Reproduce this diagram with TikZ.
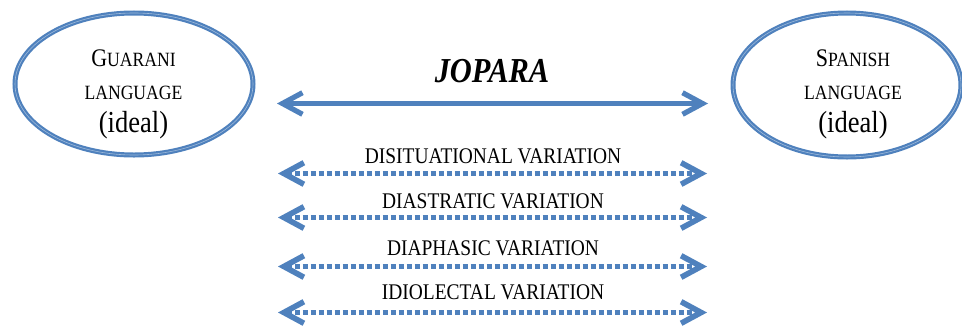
\documentclass[tikz,border=0pt]{standalone}
\usepackage{fontspec}
\setmainfont{Liberation Serif}[FakeStretch=0.87]
\usetikzlibrary{arrows.meta,shapes.geometric}

\newcommand{\firstcap}[1]{{\fontsize{18}{23.5}\selectfont #1}}
\newcommand{\idealsize}{\fontsize{21.7}{23.5}\selectfont}

\begin{document}
\begin{tikzpicture}[x=0.25mm, y=-0.25mm,
  lang/.style={ellipse, draw=lineBlue, line width=0.55mm,
    double=lineBlue!55!white, double distance=0.15mm},
  langtext/.style={align=center, inner sep=0pt,
    font=\fontsize{14.4}{23.5}\selectfont},
  mainline/.style={lineBlue, line width=1.3mm,
    {Straight Barb[length=5mm, width=5.4mm]}-{Straight Barb[length=5mm, width=5.4mm]}},
  varline/.style={lineBlue, line width=1.25mm, dash pattern=on 1.25mm off 0.75mm,
    {Straight Barb[length=5mm, width=5.4mm, line width=1.4mm]}-{Straight Barb[length=5mm, width=5.4mm, line width=1.4mm]}},
  varlabel/.style={inner sep=0pt, font=\fontsize{15.9}{18}\selectfont}]
% Colors
\definecolor{lineBlue}{RGB}{79,129,189}
% Frame
\useasboundingbox (0,0) rectangle (962,326);
% Languages
\node[lang, minimum width=59.5mm, minimum height=35.5mm] (guarani) at (134,84) {};
\node[lang, minimum width=57mm, minimum height=36mm] (spanish) at (847,85) {};
\node[langtext] (guarani text) at (133.5,94) {\firstcap{G}UARANI\\LANGUAGE\\{\idealsize (ideal)}};
\node[langtext] (spanish text) at (853,94) {\firstcap{S}PANISH\\LANGUAGE\\{\idealsize (ideal)}};
% Jopara
\node[font=\fontsize{24.9}{28}\selectfont\bfseries\itshape, inner sep=0pt] (jopara) at (492,71.5) {JOPARA};
\coordinate (jopara left) at (277,103.5);
\coordinate (jopara right) at (708,103.5);
\draw[mainline] (jopara left) -- (jopara right);
% Variations
\begin{scope}
	\node[varlabel] (disituational) at (493,156) {DISITUATIONAL VARIATION};
	\coordinate (disituational left)  at (278,173.5);
	\coordinate (disituational right) at (707,173.5);
	\draw[varline] (disituational left) -- (disituational right);

	\node[varlabel] (diastratic) at (493,201) {DIASTRATIC VARIATION};
	\coordinate (diastratic left)  at (278,217.5);
	\coordinate (diastratic right) at (707,217.5);
	\draw[varline] (diastratic left) -- (diastratic right);

	\node[varlabel] (diaphasic) at (493,248) {DIAPHASIC VARIATION};
	\coordinate (diaphasic left)  at (278,266.5);
	\coordinate (diaphasic right) at (707,266.5);
	\draw[varline] (diaphasic left) -- (diaphasic right);

	\node[varlabel] (idiolectal) at (493,292) {IDIOLECTAL VARIATION};
	\coordinate (idiolectal left)  at (278,312.5);
	\coordinate (idiolectal right) at (707,312.5);
	\draw[varline] (idiolectal left) -- (idiolectal right);
\end{scope}
\end{tikzpicture}
\end{document}
